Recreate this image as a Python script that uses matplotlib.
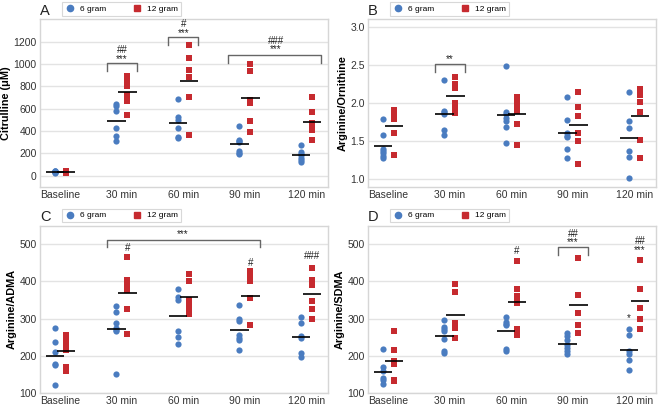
import matplotlib
matplotlib.use('Agg')
import matplotlib.pyplot as plt
import numpy as np
from matplotlib.lines import Line2D

plt.rcParams['font.family'] = ['Liberation Sans', 'DejaVu Sans']

categories = ['Baseline', '30 min', '60 min', '90 min', '120 min']

# Panel A: citrulline (uM)
cit_6g = [
    [45, 40, 35, 30, 30, 25, 45],
    [645, 627, 576, 427, 352, 307],
    [687, 525, 500, 427, 345, 335],
    [442, 322, 310, 298, 220, 200, 194],
    [278, 215, 195, 180, 160, 140, 125],
]
cit_12g = [
    [45, 40, 35, 30, 25, 30],
    [890, 845, 800, 725, 672, 546],
    [1170, 1050, 950, 880, 700, 360],
    [1000, 940, 680, 651, 486, 391],
    [701, 567, 470, 430, 405, 320],
]

# Panel B: arginine/ornithine
ao_6g = [
    [1.79, 1.58, 1.40, 1.37, 1.34, 1.31, 1.28],
    [2.30, 1.90, 1.88, 1.86, 1.65, 1.58],
    [2.49, 1.88, 1.85, 1.80, 1.77, 1.68, 1.47],
    [2.08, 1.78, 1.60, 1.57, 1.55, 1.39, 1.28],
    [2.15, 1.77, 1.67, 1.37, 1.29, 1.02],
]
ao_12g = [
    [1.91, 1.85, 1.79, 1.60, 1.32],
    [2.34, 2.25, 2.20, 2.00, 1.93, 1.87],
    [2.08, 2.02, 1.97, 1.90, 1.72, 1.45],
    [2.15, 1.95, 1.83, 1.60, 1.50, 1.20],
    [2.19, 2.11, 2.02, 1.88, 1.51, 1.28],
]

# Panel C: arginine/ADMA
adma_6g = [
    [274, 238, 211, 178, 175, 122],
    [335, 317, 287, 275, 270, 268, 152],
    [380, 358, 350, 268, 251, 231],
    [338, 300, 294, 256, 248, 242, 217],
    [304, 289, 252, 248, 208, 198],
]
adma_12g = [
    [255, 243, 232, 215, 170, 158],
    [465, 403, 390, 378, 325, 259],
    [420, 400, 350, 335, 325, 312],
    [428, 412, 400, 356, 284, 282],
    [437, 405, 390, 347, 325, 300],
]

# Panel D: arginine/SDMA
sdma_6g = [
    [219, 170, 160, 140, 135, 123],
    [296, 278, 272, 268, 246, 213, 207],
    [305, 290, 286, 282, 218, 212],
    [262, 252, 243, 230, 220, 212, 206],
    [272, 257, 212, 205, 188, 161],
]
sdma_12g = [
    [268, 217, 185, 178, 135, 133],
    [393, 372, 288, 280, 275, 247],
    [456, 381, 360, 350, 342, 272, 255],
    [464, 363, 315, 283, 262],
    [458, 381, 328, 298, 272],
]

BLUE = '#4a7cc0'
RED = '#c62a2f'
OFF = 0.09
GRID = '#e3e3e3'


def draw_panel(ax, six, twelve, ylim, yticks, ylabel, fmt=None):
    ax.set_facecolor('white')
    for i, (a, b) in enumerate(zip(six, twelve)):
        ax.scatter(np.full(len(a), i - OFF), a, s=20, marker='o', color=BLUE,
                   linewidths=0, zorder=3)
        ax.scatter(np.full(len(b), i + OFF), b, s=20, marker='s', color=RED,
                   linewidths=0, zorder=3)
        ax.hlines(np.mean(a), i - OFF - 0.15, i - OFF + 0.15, color='black', lw=1.2, zorder=4)
        ax.hlines(np.mean(b), i + OFF - 0.15, i + OFF + 0.15, color='black', lw=1.2, zorder=4)
    ax.set_xlim(-0.33, 4.35)
    ax.set_ylim(*ylim)
    ax.set_yticks(yticks)
    if fmt:
        ax.set_yticklabels([fmt.format(t) for t in yticks])
    ax.set_xticks(range(len(categories)))
    ax.set_xticklabels(categories)
    ax.tick_params(axis='both', length=0, labelsize=7.5, colors='#333333', pad=2.5)
    ax.yaxis.grid(True, color=GRID, lw=1)
    ax.set_axisbelow(True)
    for s in ax.spines.values():
        s.set_color('#d6d6d6')
        s.set_linewidth(1)
    ax.set_ylabel(ylabel, fontsize=7.8, fontweight='bold', labelpad=1.5)


def bracket(ax, x0, x1, top, leg):
    ax.plot([x0, x0, x1, x1], [leg, top, top, leg], color='#666666', lw=1, zorder=2)


def note(ax, x, y, s):
    # y is the baseline of the lowest line
    ax.text(x, y, s, ha='center', va='baseline', fontsize=7, color='#222222',
            linespacing=0.85)


def legend_and_label(ax, letter):
    handles = [
        Line2D([], [], marker='o', ls='none', color=BLUE, markersize=4.5, label='6 gram'),
        Line2D([], [], marker='s', ls='none', color=RED, markersize=4.5, label='12 gram'),
    ]
    leg = ax.legend(handles=handles, ncol=2, loc='lower left', bbox_to_anchor=(0.075, 1.02),
                    borderaxespad=0, fontsize=6, frameon=True, fancybox=False,
                    handletextpad=0.6, columnspacing=3.2, borderpad=0.35, handlelength=1.2)
    leg.get_frame().set_edgecolor('#cfcfcf')
    leg.get_frame().set_linewidth(0.8)
    ax.text(0.0, 1.027, letter, transform=ax.transAxes, fontsize=10.5,
            ha='left', va='baseline', color='#222222')


fig = plt.figure(figsize=(6.58, 4.07), dpi=100)
axA = fig.add_axes([0.0608, 0.5413, 0.4377, 0.411])
axB = fig.add_axes([0.5593, 0.5413, 0.4377, 0.411])
axC = fig.add_axes([0.0608, 0.0344, 0.4377, 0.411])
axD = fig.add_axes([0.5593, 0.0344, 0.4377, 0.411])

draw_panel(axA, cit_6g, cit_12g, (-100, 1400), range(0, 1201, 200), 'Citrulline (μM)')
bracket(axA, 0.755, 1.245, 1009, 940)
note(axA, 1, 1020, '##\n***')
bracket(axA, 1.755, 2.245, 1242, 1170)
note(axA, 2, 1250, '#\n***')
bracket(axA, 2.73, 4.24, 1077, 1009)
note(axA, 3.5, 1105, '###\n***')

draw_panel(axB, ao_6g, ao_12g, (0.9, 3.1), [1.0, 1.5, 2.0, 2.5, 3.0], 'Arginine/Ornithine', '{:.1f}')
bracket(axB, 0.755, 1.245, 2.51, 2.41)
note(axB, 1, 2.535, '**')

draw_panel(axC, adma_6g, adma_12g, (100, 550), range(100, 501, 100), 'Arginine/ADMA')
bracket(axC, 0.76, 3.25, 512, 492)
note(axC, 1.98, 519, '***')
note(axC, 1.09, 482, '#')
note(axC, 3.09, 441, '#')
note(axC, 4.09, 461, '###')

draw_panel(axD, sdma_6g, sdma_12g, (100, 550), range(100, 501, 100), 'Arginine/SDMA')
note(axD, 2.09, 473, '#')
bracket(axD, 2.76, 3.24, 492, 470)
note(axD, 3, 497, '##\n***')
note(axD, 4.09, 477, '##\n***')
note(axD, 3.91, 293, '*')

for ax, letter in zip([axA, axB, axC, axD], 'ABCD'):
    legend_and_label(ax, letter)

fig.savefig('out.png', dpi=100, facecolor='white')
